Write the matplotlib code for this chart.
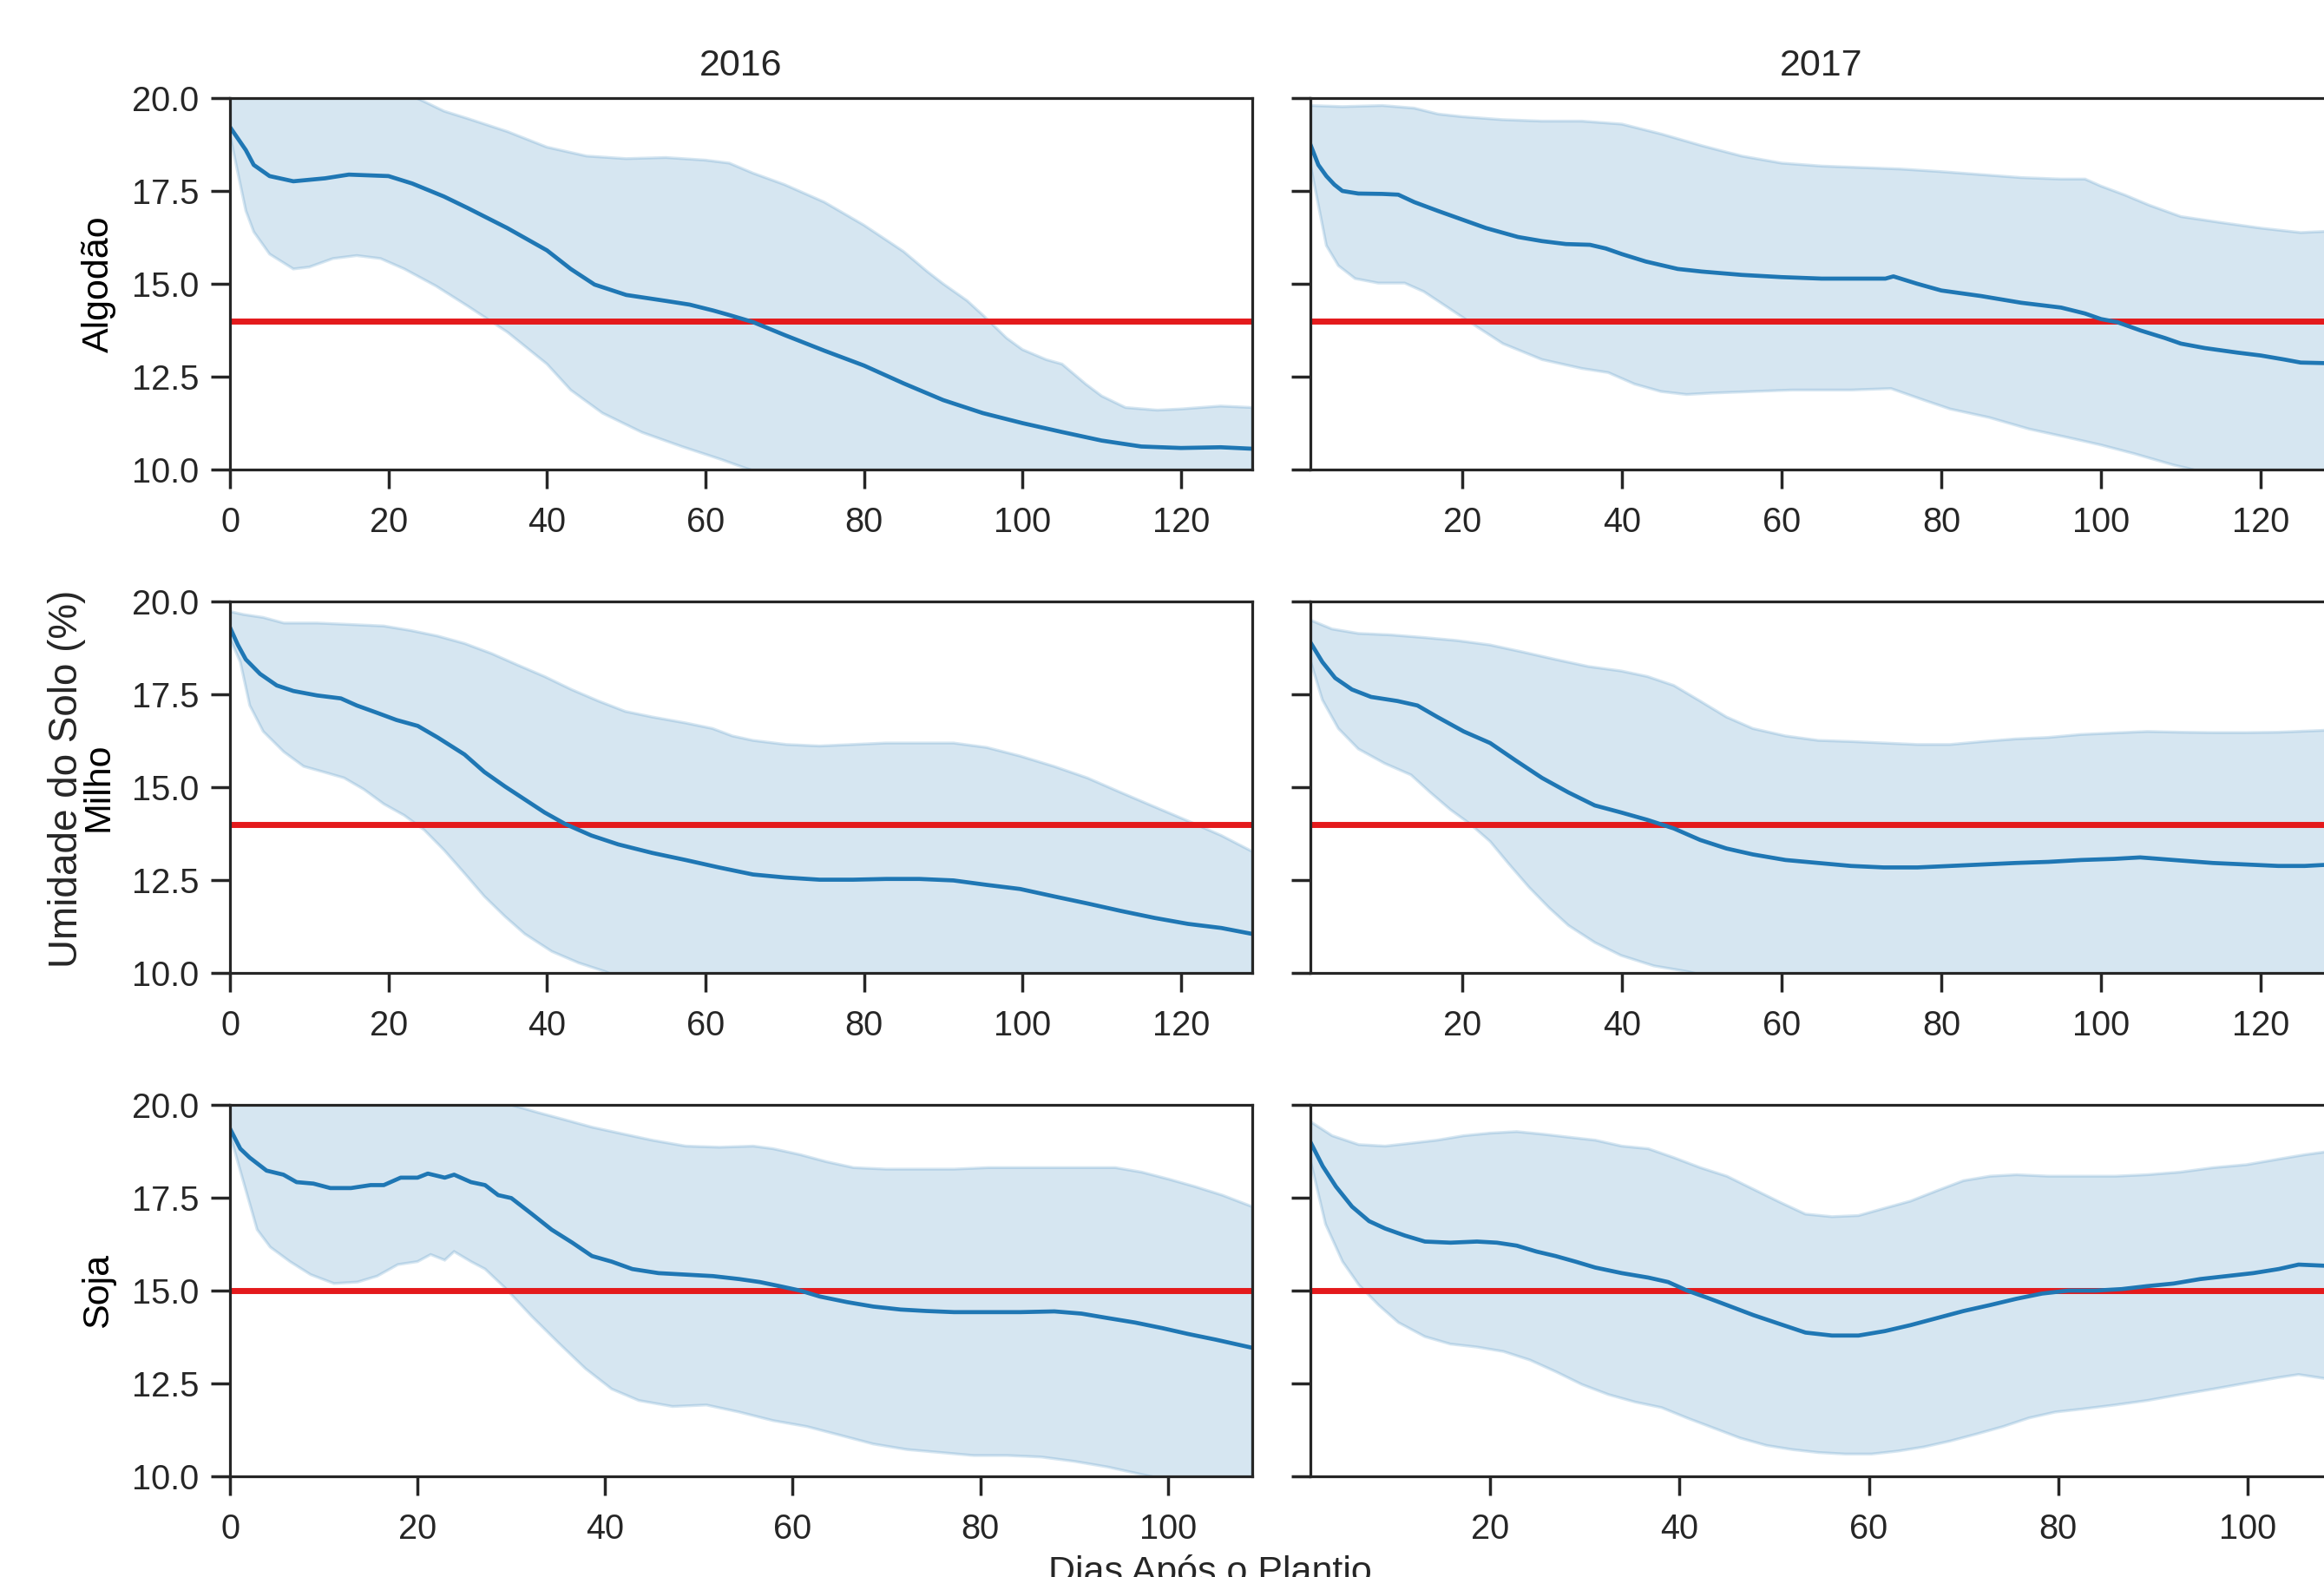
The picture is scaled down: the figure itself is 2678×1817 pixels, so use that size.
import matplotlib
matplotlib.use('Agg')
import matplotlib.pyplot as plt
from matplotlib.ticker import FormatStrFormatter

# ---- data (day after planting, soil moisture %) ----
ALG16_MEAN_DAY = [0, 2, 3, 5, 8, 12, 15, 20, 23, 27, 30, 35, 40, 43, 46, 50, 55, 58, 61, 63, 66, 70, 75, 80, 85,
                  90, 95, 100, 105, 110, 115, 120, 125, 129]
ALG16_MEAN = [19.22, 18.6, 18.2, 17.9, 17.76, 17.84, 17.94, 17.9, 17.7, 17.35, 17.04, 16.5, 15.9, 15.4, 14.98,
              14.7, 14.54, 14.44, 14.28, 14.16, 13.97, 13.62, 13.2, 12.8, 12.32, 11.87, 11.52, 11.25, 11.01,
              10.78, 10.62, 10.58, 10.6, 10.56]
ALG16_UP_DAY = [0, 10, 20, 24, 27, 30, 35, 40, 45, 50, 55, 60, 63, 66, 70, 75, 80, 85, 88, 90, 93, 95, 98, 100,
                103, 105, 108, 110, 113, 117, 120, 125, 129]
ALG16_UP = [20.4, 20.6, 20.3, 19.96, 19.65, 19.45, 19.1, 18.68, 18.44, 18.37, 18.4, 18.33, 18.25, 17.98, 17.67,
            17.2, 16.58, 15.87, 15.33, 15.0, 14.55, 14.16, 13.54, 13.23, 12.96, 12.84, 12.3, 11.98, 11.67, 11.6,
            11.63, 11.71, 11.67]
ALG16_LO_DAY = [0, 1, 2, 3, 5, 8, 10, 13, 16, 19, 22, 26, 30, 35, 40, 43, 47, 52, 57, 62, 65, 70, 80, 90, 100,
                110, 120, 129]
ALG16_LO = [19.0, 17.98, 16.97, 16.4, 15.8, 15.4, 15.45, 15.68, 15.76, 15.68, 15.4, 14.94, 14.4, 13.7, 12.84,
            12.14, 11.52, 11.0, 10.62, 10.27, 10.04, 9.7, 9.2, 8.8, 8.5, 8.3, 8.2, 8.2]

ALG17_MEAN_DAY = [1, 2, 3, 4, 5, 7, 10, 12, 14, 17, 20, 23, 27, 30, 33, 36, 38, 40, 43, 47, 50, 55, 60, 65, 70,
                  73, 74, 77, 80, 85, 90, 95, 98, 100, 102, 105, 108, 110, 113, 117, 120, 123, 125, 129]
ALG17_MEAN = [18.75, 18.2, 17.9, 17.67, 17.5, 17.43, 17.42, 17.4, 17.2, 16.96, 16.73, 16.5, 16.26, 16.15, 16.07,
              16.05, 15.95, 15.8, 15.6, 15.4, 15.33, 15.24, 15.18, 15.14, 15.14, 15.14, 15.2, 15.0, 14.82, 14.67,
              14.49, 14.36, 14.2, 14.05, 13.97, 13.74, 13.54, 13.39, 13.27, 13.15, 13.07, 12.96, 12.88, 12.86]
ALG17_UP_DAY = [1, 5, 10, 14, 17, 20, 25, 30, 35, 40, 45, 50, 55, 60, 65, 70, 75, 80, 85, 90, 95, 98, 100, 103,
                106, 110, 115, 120, 125, 129]
ALG17_UP = [19.8, 19.77, 19.8, 19.73, 19.57, 19.5, 19.42, 19.38, 19.38, 19.3, 19.03, 18.72, 18.44, 18.25, 18.17,
            18.13, 18.09, 18.02, 17.94, 17.86, 17.82, 17.82, 17.63, 17.39, 17.12, 16.81, 16.65, 16.5, 16.38, 16.42]
ALG17_LO_DAY = [1, 3, 4.5, 6.6, 9.5, 12.8, 15.2, 18.5, 21.8, 25.1, 30, 35, 38.3, 41.6, 44.9, 48.1, 51.4, 56.4,
                61.3, 68.7, 73.7, 77.8, 81.1, 86, 91, 95.9, 100, 104.1, 109.1, 110.7, 115, 120, 129]
ALG17_LO = [18.2, 16.03, 15.49, 15.14, 15.02, 15.02, 14.79, 14.32, 13.85, 13.39, 12.96, 12.72, 12.61, 12.3, 12.1,
            12.02, 12.06, 12.1, 12.14, 12.14, 12.18, 11.87, 11.63, 11.4, 11.09, 10.86, 10.66, 10.43, 10.12, 10.04,
            9.8, 9.6, 9.3]

MIL16_MEAN_DAY = [0, 1, 2, 3.8, 5.9, 8, 11, 14, 16, 18.6, 21, 23.7, 26.2, 29.6, 32.1, 34.7, 37.2, 39.7, 42.3,
                  45.6, 49, 53.3, 57.5, 61.7, 66, 70, 74.4, 78.6, 82.8, 87, 91.3, 95.5, 99.7, 104, 108.2, 112.4,
                  116.7, 120.9, 125.1, 129]
MIL16_MEAN = [19.3, 18.83, 18.44, 18.05, 17.74, 17.59, 17.47, 17.39, 17.2, 17.0, 16.81, 16.65, 16.34, 15.88,
              15.41, 15.02, 14.67, 14.32, 14.01, 13.7, 13.46, 13.23, 13.04, 12.84, 12.65, 12.57, 12.51, 12.51,
              12.53, 12.53, 12.49, 12.37, 12.26, 12.06, 11.87, 11.67, 11.48, 11.32, 11.21, 11.05]
MIL16_UP_DAY = [0, 1.7, 4.2, 6.8, 11, 15.2, 19.4, 22.8, 26.2, 29.6, 33, 36.3, 39.7, 43.1, 46.5, 49.9, 53.3, 57.5,
                60.9, 63.4, 66, 70.2, 74.4, 78.6, 82.8, 87, 91.3, 95.5, 99.7, 104, 108.2, 112.4, 116.7, 120.9,
                125.1, 129]
MIL16_UP = [19.73, 19.65, 19.57, 19.42, 19.42, 19.38, 19.34, 19.22, 19.07, 18.87, 18.6, 18.29, 17.98, 17.63,
            17.32, 17.04, 16.89, 16.73, 16.58, 16.38, 16.26, 16.15, 16.11, 16.15, 16.19, 16.19, 16.19, 16.07,
            15.84, 15.56, 15.25, 14.86, 14.47, 14.09, 13.7, 13.27]
MIL16_LO_DAY = [0, 1.3, 2.5, 4.2, 6.8, 9.3, 11.8, 14.4, 16.9, 19.4, 22, 24.5, 27, 29.6, 32.1, 34.7, 37.2, 40.6,
                44, 47.3, 50, 60, 70, 80, 90, 100, 110, 120, 129]
MIL16_LO = [19.0, 18.37, 17.2, 16.5, 15.95, 15.56, 15.41, 15.25, 14.94, 14.55, 14.24, 13.85, 13.31, 12.68, 12.06,
            11.52, 11.05, 10.58, 10.27, 10.04, 9.8, 9.2, 8.8, 8.5, 8.3, 8.1, 8.0, 7.9, 7.8]

MIL17_MEAN_DAY = [1, 2.5, 4.1, 6.2, 8.6, 11.9, 14.4, 16.9, 20.2, 23.5, 26.7, 30, 33.3, 36.6, 39.9, 43.2, 46.5,
                  49.8, 53.1, 56.4, 60.5, 64.6, 68.7, 72.8, 77, 81.1, 85.2, 89.3, 93.4, 97.5, 101.6, 104.9, 109.1,
                  114, 118.1, 122.2, 125.5, 129]
MIL17_MEAN = [18.9, 18.37, 17.94, 17.63, 17.43, 17.32, 17.2, 16.89, 16.5, 16.19, 15.72, 15.25, 14.86, 14.51,
              14.32, 14.12, 13.89, 13.58, 13.35, 13.19, 13.04, 12.96, 12.88, 12.84, 12.84, 12.88, 12.92, 12.96,
              12.99, 13.04, 13.07, 13.11, 13.04, 12.96, 12.92, 12.88, 12.88, 12.92]
MIL17_UP_DAY = [1, 3.7, 7, 11.1, 15.2, 19.3, 23.5, 27.6, 31.7, 35.8, 39.9, 43.2, 46.5, 49.8, 53.1, 56.4, 60.5,
                64.6, 68.7, 72.8, 77, 81.1, 85.2, 89.3, 93.4, 97.5, 101.6, 105.8, 109.9, 114, 118.1, 122.2, 129]
MIL17_UP = [19.5, 19.26, 19.14, 19.1, 19.03, 18.95, 18.83, 18.64, 18.44, 18.25, 18.13, 17.98, 17.74, 17.32, 16.89,
            16.58, 16.38, 16.26, 16.23, 16.19, 16.15, 16.15, 16.23, 16.3, 16.34, 16.42, 16.46, 16.5, 16.48, 16.47,
            16.47, 16.48, 16.54]
MIL17_LO_DAY = [1, 2.5, 4.5, 7, 10.3, 13.6, 16, 18.5, 21, 23.5, 25.9, 28.4, 30.9, 33.3, 36.6, 39.9, 44, 48.1, 55,
                65, 75, 85, 95, 105, 115, 129]
MIL17_LO = [18.4, 17.35, 16.58, 16.03, 15.64, 15.33, 14.86, 14.4, 14.01, 13.54, 12.92, 12.3, 11.75, 11.28, 10.82,
            10.47, 10.19, 10.04, 9.7, 9.3, 9.0, 8.8, 8.7, 8.6, 8.5, 8.4]

SOJ16_MEAN_DAY = [0, 1.1, 2.1, 3.9, 5.7, 7.1, 8.9, 10.7, 12.9, 15, 16.4, 18.2, 20, 21.1, 22.9, 23.9, 25.7, 27.2,
                  28.6, 30, 32.2, 34.3, 36.5, 38.6, 40.7, 42.9, 45.7, 48.6, 51.5, 54.3, 56.5, 58.6, 60.8, 62.9,
                  65.8, 68.6, 71.5, 74.3, 77.2, 80.8, 84.3, 87.9, 90.8, 93.6, 96.5, 99.4, 102.2, 105.1, 109]
SOJ16_MEAN = [19.36, 18.82, 18.58, 18.23, 18.12, 17.92, 17.88, 17.76, 17.76, 17.84, 17.84, 18.04, 18.04, 18.15,
              18.04, 18.12, 17.92, 17.84, 17.57, 17.49, 17.06, 16.64, 16.29, 15.93, 15.78, 15.58, 15.47, 15.43,
              15.39, 15.31, 15.23, 15.12, 15.0, 14.84, 14.69, 14.57, 14.49, 14.45, 14.42, 14.42, 14.42, 14.44,
              14.38, 14.26, 14.14, 13.99, 13.83, 13.68, 13.46]
SOJ16_UP_DAY = [0, 10, 20, 27, 30.7, 32.9, 35.7, 38.6, 41.5, 45, 48.6, 52.2, 55.8, 57.9, 60.8, 63.6, 66.5, 70,
                73.6, 77.2, 80.8, 84.3, 87.9, 91.5, 94.4, 97.2, 100.1, 102.9, 105.8, 109]
SOJ16_UP = [20.5, 20.7, 20.6, 20.2, 19.95, 19.79, 19.6, 19.4, 19.24, 19.05, 18.89, 18.86, 18.89, 18.82, 18.66,
            18.47, 18.31, 18.27, 18.27, 18.27, 18.31, 18.31, 18.31, 18.31, 18.31, 18.19, 18.0, 17.8, 17.57, 17.26]
SOJ16_LO_DAY = [0, 1.4, 2.9, 4.3, 6.4, 8.6, 11.1, 13.6, 15.7, 17.9, 20, 21.4, 22.9, 23.9, 25.7, 27.2, 29.3, 32.2,
                35, 37.9, 40.7, 43.6, 47.2, 50.8, 54.3, 57.9, 61.5, 65, 68.6, 72.2, 75.8, 79.3, 82.9, 86.5, 90.1,
                93.6, 97.2, 100, 105, 109]
SOJ16_LO = [19.2, 17.96, 16.64, 16.17, 15.78, 15.43, 15.19, 15.23, 15.39, 15.7, 15.78, 15.97, 15.82, 16.05, 15.78,
            15.58, 15.08, 14.3, 13.6, 12.9, 12.35, 12.04, 11.88, 11.92, 11.73, 11.5, 11.34, 11.11, 10.87, 10.72,
            10.64, 10.56, 10.56, 10.52, 10.4, 10.25, 10.05, 9.9, 9.7, 9.5]

SOJ17_MEAN_DAY = [1, 2.3, 3.7, 5.4, 7.2, 8.9, 11, 13.1, 15.8, 18.6, 20.7, 22.8, 24.9, 26.9, 29, 31.1, 33.9, 36.7,
                  38.8, 40.8, 42.9, 45, 47.8, 50.6, 53.3, 56.1, 58.9, 61.7, 64.4, 67.2, 70, 72.8, 75.6, 78.3, 81.1,
                  83.9, 86.7, 89.4, 92.2, 95, 97.8, 100.6, 103.3, 105.4, 109]
SOJ17_MEAN = [19.0, 18.35, 17.8, 17.26, 16.87, 16.67, 16.48, 16.32, 16.29, 16.32, 16.29, 16.21, 16.05, 15.93,
              15.78, 15.62, 15.47, 15.35, 15.23, 15.0, 14.81, 14.61, 14.34, 14.1, 13.87, 13.79, 13.79, 13.91,
              14.07, 14.26, 14.45, 14.61, 14.78, 14.92, 15.0, 15.0, 15.04, 15.12, 15.19, 15.31, 15.39, 15.47,
              15.58, 15.7, 15.66]
SOJ17_UP_DAY = [1, 3.3, 6.1, 8.9, 11.7, 14.4, 17.2, 20, 22.8, 25.6, 28.3, 31.1, 33.9, 36.7, 39.4, 42.2, 45, 47.8,
                50.6, 53.3, 56.1, 58.9, 61.7, 64.4, 67.2, 70, 72.8, 75.6, 79, 82.5, 86, 89.4, 92.9, 96.4, 99.9,
                103.3, 106.1, 109]
SOJ17_UP = [19.55, 19.17, 18.93, 18.89, 18.97, 19.05, 19.17, 19.24, 19.28, 19.21, 19.13, 19.05, 18.89, 18.82,
            18.58, 18.31, 18.08, 17.73, 17.38, 17.06, 16.99, 17.02, 17.22, 17.41, 17.69, 17.96, 18.08, 18.12,
            18.08, 18.08, 18.08, 18.12, 18.19, 18.31, 18.39, 18.54, 18.66, 18.76]
SOJ17_LO_DAY = [1, 2.6, 4.4, 6.1, 8.2, 10.3, 13.1, 15.8, 18.6, 21.4, 24.2, 26.9, 29.7, 32.5, 35.3, 38.1, 40.8,
                43.6, 46.4, 49.2, 51.9, 54.7, 57.5, 60.3, 63.1, 65.8, 68.6, 71.4, 74.2, 76.9, 79.7, 82.5, 86, 89.4,
                92.9, 96.4, 99.9, 103.3, 105.4, 109]
SOJ17_LO = [18.5, 16.79, 15.78, 15.16, 14.61, 14.14, 13.76, 13.56, 13.48, 13.36, 13.13, 12.82, 12.47, 12.2, 12.0,
            11.85, 11.57, 11.3, 11.03, 10.83, 10.72, 10.64, 10.6, 10.6, 10.68, 10.79, 10.95, 11.14, 11.34, 11.57,
            11.73, 11.81, 11.92, 12.04, 12.2, 12.35, 12.51, 12.66, 12.74, 12.6]

CROPS = ['Algodão', 'Milho', 'Soja']
YEARS = ['2016', '2017']
LIMITS = [14, 14, 15]
X_RANGES = [[(0, 129), (1, 129)], [(0, 129), (1, 129)], [(0, 109), (1, 109)]]
Y_TICKS = [10, 12.5, 15, 17.5, 20]

PANELS = [
    [(ALG16_MEAN_DAY, ALG16_MEAN, ALG16_UP_DAY, ALG16_UP, ALG16_LO_DAY, ALG16_LO),
     (ALG17_MEAN_DAY, ALG17_MEAN, ALG17_UP_DAY, ALG17_UP, ALG17_LO_DAY, ALG17_LO)],
    [(MIL16_MEAN_DAY, MIL16_MEAN, MIL16_UP_DAY, MIL16_UP, MIL16_LO_DAY, MIL16_LO),
     (MIL17_MEAN_DAY, MIL17_MEAN, MIL17_UP_DAY, MIL17_UP, MIL17_LO_DAY, MIL17_LO)],
    [(SOJ16_MEAN_DAY, SOJ16_MEAN, SOJ16_UP_DAY, SOJ16_UP, SOJ16_LO_DAY, SOJ16_LO),
     (SOJ17_MEAN_DAY, SOJ17_MEAN, SOJ17_UP_DAY, SOJ17_UP, SOJ17_LO_DAY, SOJ17_LO)],
]

BLUE = '#1f77b4'
RED = '#e41a1c'
DARK = '#262626'

plt.rcParams['font.family'] = ['Liberation Sans', 'DejaVu Sans']
plt.rcParams['text.color'] = DARK
plt.rcParams['axes.edgecolor'] = DARK
plt.rcParams['xtick.color'] = DARK
plt.rcParams['ytick.color'] = DARK


def draw_panel(ax, mean_day, mean, up_day, up, lo_day, lo, limit):
    # band as one polygon: upper edge forward, lower edge backward
    ax.fill(list(up_day) + list(lo_day)[::-1], list(up) + list(lo)[::-1],
            facecolor=BLUE, edgecolor=BLUE, alpha=0.18, lw=1.2)
    ax.axhline(limit, color=RED, lw=2.5)
    ax.plot(mean_day, mean, color=BLUE, lw=1.7)


W, H = 2678, 1817
fig = plt.figure(figsize=(W / 200, H / 200), dpi=200)

lefts = [265, 1510]
bottoms = [541, 1121, 1701]
ax_w, ax_h = 1178, 428

for r, crop in enumerate(CROPS):
    for c, year in enumerate(YEARS):
        ax = fig.add_axes([lefts[c] / W, 1 - bottoms[r] / H, ax_w / W, ax_h / H])
        draw_panel(ax, *PANELS[r][c], LIMITS[r])
        ax.set_yticks(Y_TICKS)
        ax.yaxis.set_major_formatter(FormatStrFormatter('%.1f'))
        ax.set_xticks(range(0, X_RANGES[r][c][1], 20))
        # limits after the ticks, so the 2017 axes keep starting at day 1 (no "0" tick)
        ax.set_xlim(*X_RANGES[r][c])
        ax.set_ylim(10, 20)
        for s in ax.spines.values():
            s.set_linewidth(1.15)
        ax.tick_params(direction='out', length=8, width=1.25, pad=5, labelsize=14.3)
        ax.tick_params(axis='x', pad=7)
        if c == 0:
            ax.set_ylabel(crop, fontsize=15.5, labelpad=6.5)
        else:
            ax.tick_params(axis='y', labelleft=False)
        if r == 0:
            ax.set_title(year, fontsize=15.5, pad=9.4)

fig.text(77 / W, 1 - 897 / H, 'Umidade do Solo (%)', rotation=90, ha='center', va='center', fontsize=16.5)
fig.text(1394 / W, 1 - 1823 / H, 'Dias Após o Plantio', ha='center', va='baseline', fontsize=15.5)

fig.savefig('out.png', dpi=200)
